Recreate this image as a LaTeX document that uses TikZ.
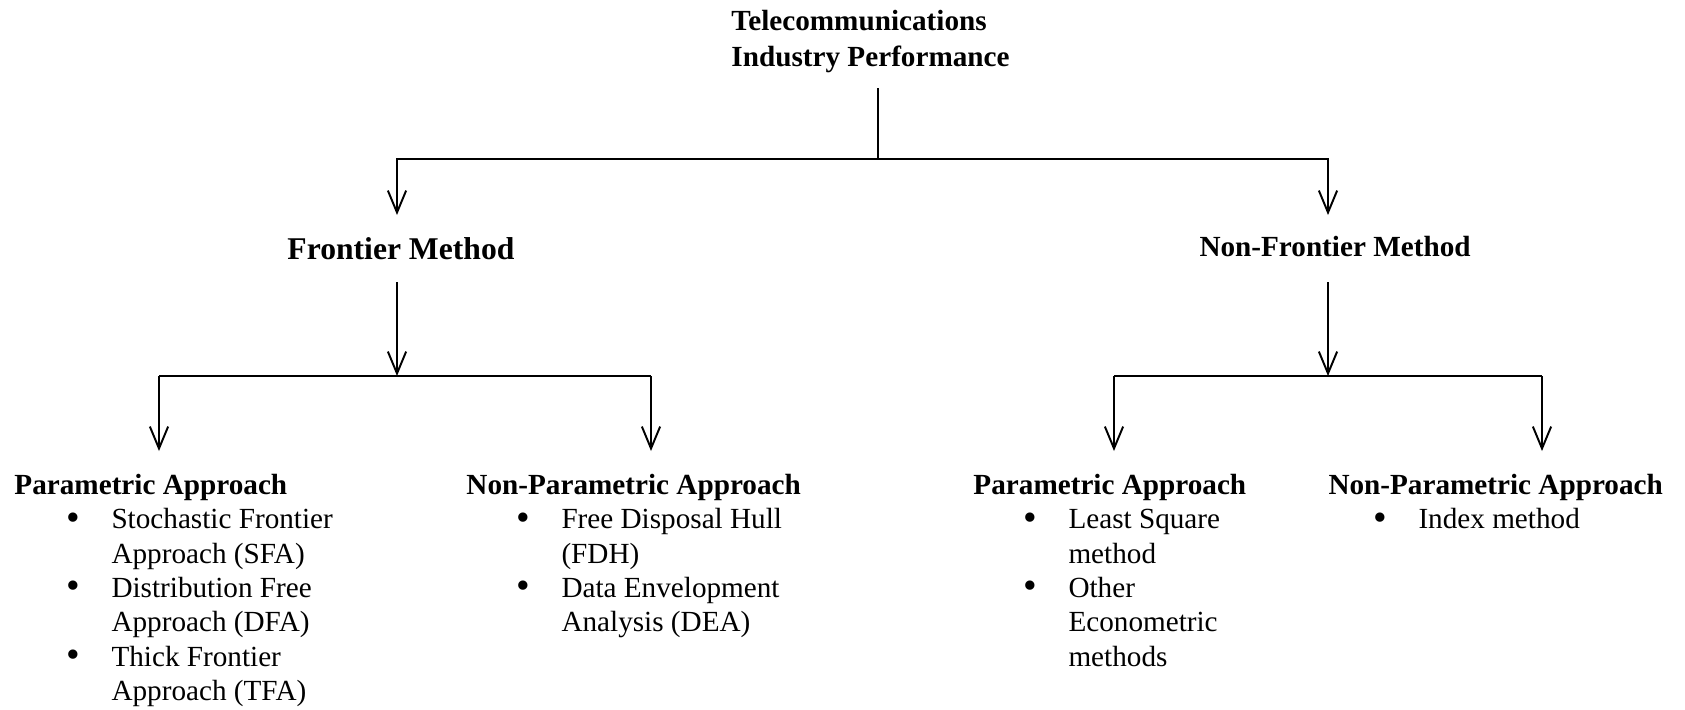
\documentclass[tikz,border=0pt]{standalone}
\usepackage{fontspec}
\setmainfont{Liberation Serif}
\usetikzlibrary{arrows.meta}

\newcommand{\bitem}{\makebox[18.5pt][l]{\raisebox{-0.6pt}{\fontsize{16}{16}\selectfont\textbullet}}}
\newcommand{\bcont}{\hspace*{18.5pt}}

\tikzset{
  link/.style={line width=0.8pt},
  arr/.style={link, -{Straight Barb[length=9pt,width=7.5pt,line width=0.8pt]}},
  heading/.style={font=\fontsize{12}{14.6}\selectfont\bfseries, inner sep=0pt, anchor=base west},
  items/.style={font=\fontsize{12}{14.15}\selectfont, inner sep=0pt, anchor=base west, align=left}
}

\begin{document}
\begin{tikzpicture}[x=0.411pt, y=-0.411pt]
    \useasboundingbox (0,0) rectangle (1685,709);

    %% top of the tree (base = last line)
    \node[heading, align=left] (telecom) at (731,66.5)
      {Telecommunications\\Industry Performance};
    \coordinate (topstem) at (878,88);
    \coordinate (topjoin) at (878,159);
    \coordinate (fin) at (397,215);
    \coordinate (nfin) at (1328,215);
    \draw[link] (topstem) -- (topjoin);
    \draw[arr] (topjoin) -| (fin);
    \draw[arr] (topjoin) -| (nfin);

    %% the two methods
    \node[heading, font=\fontsize{13}{15}\selectfont\bfseries] (frontier) at (287,259.5) {Frontier Method};
    \node[heading] (nonfrontier) at (1199,256.7) {Non-Frontier Method};

    %% frontier branch
    \coordinate (fstem) at (397,282);
    \coordinate (fjoin) at (397,376);
    \coordinate (fbusl) at (159,376);
    \coordinate (fbusr) at (651,376);
    \draw[arr] (fstem) -- (fjoin);
    \draw[link] (fbusl) -- (fbusr);
    \draw[arr] (fbusl) -- ++(0,75) coordinate (fpin);
    \draw[arr] (fbusr) -- ++(0,75) coordinate (fnpin);

    %% non-frontier branch
    \coordinate (nstem) at (1328,282);
    \coordinate (njoin) at (1328,376);
    \coordinate (nbusl) at (1114,376);
    \coordinate (nbusr) at (1542,376);
    \draw[arr] (nstem) -- (njoin);
    \draw[link] (nbusl) -- (nbusr);
    \draw[arr] (nbusl) -- ++(0,75) coordinate (npin);
    \draw[arr] (nbusr) -- ++(0,75) coordinate (nnpin);

    %% approaches
    \node[heading] (fpar) at (14,494) {Parametric Approach};
    \node[heading] (fnonpar) at (466,494) {Non-Parametric Approach};
    \node[heading] (npar) at (973,494) {Parametric Approach};
    \node[heading] (nnonpar) at (1328,494) {Non-Parametric Approach};

    %% lists of techniques (placed by the baseline of their last line)
    \node[items] (fparlist) at (66,700.7)
      {\bitem Stochastic Frontier\\ \bcont Approach (SFA)\\
       \bitem Distribution Free\\ \bcont Approach (DFA)\\
       \bitem Thick Frontier\\ \bcont Approach (TFA)};
    \node[items] (fnonparlist) at (516,631.9)
      {\bitem Free Disposal Hull\\ \bcont (FDH)\\
       \bitem Data Envelopment\\ \bcont Analysis (DEA)};
    \node[items] (nparlist) at (1023,666.3)
      {\bitem Least Square\\ \bcont method\\
       \bitem Other\\ \bcont Econometric\\ \bcont methods};
    \node[items] (nnonparlist) at (1373,528.7)
      {\bitem Index method};
  \end{tikzpicture}
\end{document}
